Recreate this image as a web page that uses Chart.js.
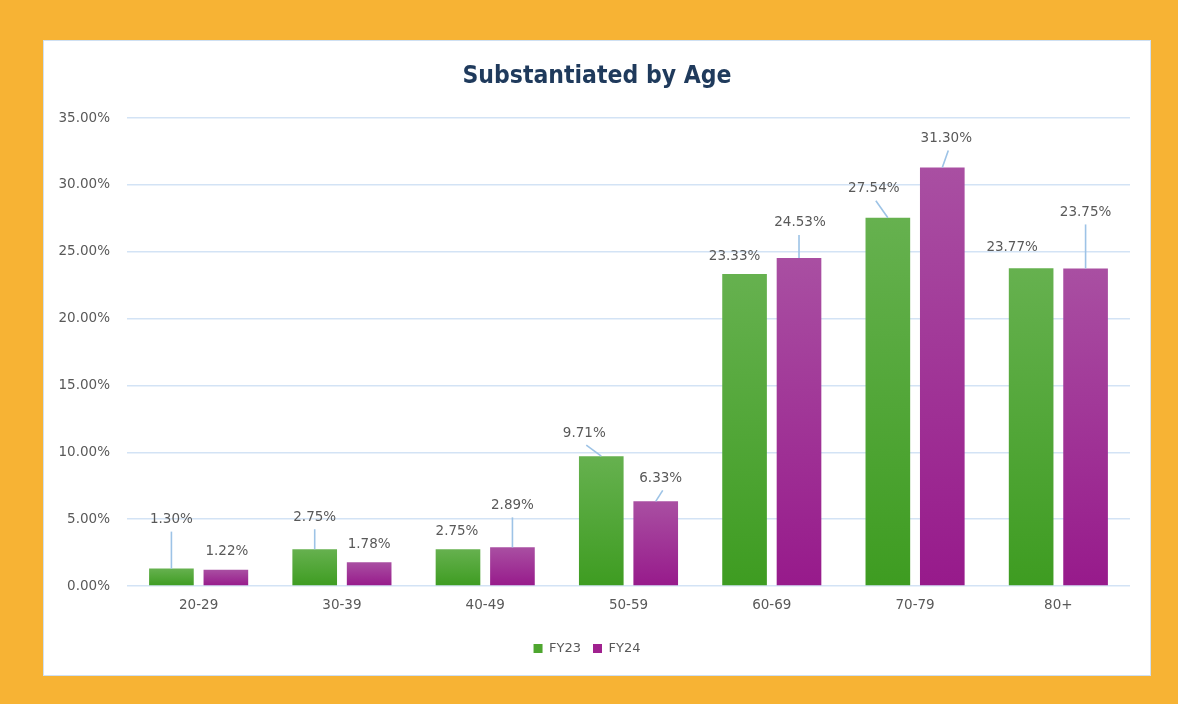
<!DOCTYPE html>
<html>
<head>
<meta charset="utf-8">
<script src="https://cdn.jsdelivr.net/npm/chart.js@4/dist/chart.umd.min.js"></script>
<style>
  html, body { margin: 0; padding: 0; }
  body { width: 1178px; height: 704px; background: #f7b334; position: relative; overflow: hidden; }
  #panel {
    position: absolute; left: 43px; top: 40px; width: 1108px; height: 636px;
    background: #fff; border: 1px solid #cfe0f2; box-sizing: border-box;
  }
  #wrap { position: absolute; left: 0; top: 0; width: 1106px; height: 634px; }
</style>
</head>
<body>
<div id="panel"><div id="wrap"><canvas id="chart"></canvas></div></div>
<script>
// values
const ageGroups = ['20-29', '30-39', '40-49', '50-59', '60-69', '70-79', '80+'];
const fy23 = [1.30, 2.75, 2.75, 9.71, 23.33, 27.54, 23.77];
const fy24 = [1.22, 1.78, 2.89, 6.33, 24.53, 31.30, 23.75];
const yTicks = [0, 5, 10, 15, 20, 25, 30, 35];
const chartTitle = 'Substantiated by Age';

// where each data label sits relative to its bar top (px), like the excel layout
const labelShiftFY23 = [[0, -49], [0, -32], [-1, -18], [-17, -23], [-10, -18], [-14, -29], [-19, -21]];
const labelShiftFY24 = [[1, -18], [0, -18], [0, -42], [5, -23], [1, -35], [4, -29], [0, -56]];

const textGrey = '#595959';
const gridBlue = '#d3e3f5';
const leaderBlue = '#9dc3e6';
const labelFont = '"DejaVu Sans", Verdana, sans-serif';

const barGradient = (top, bottom) => (context) => {
  const { chart, parsed } = context;
  if (!parsed || !chart.chartArea) return bottom;
  const y = chart.scales.y;
  const g = chart.ctx.createLinearGradient(0, y.getPixelForValue(parsed.y), 0, y.getPixelForValue(0));
  g.addColorStop(0, top);
  g.addColorStop(1, bottom);
  return g;
};

// title centred on the whole panel, not on the padded layout box
const panelTitle = {
  id: 'panelTitle',
  afterDraw(chart) {
    const { ctx } = chart;
    ctx.save();
    ctx.font = 'bold 24.5px "Liberation Sans Narrow", "DejaVu Sans Condensed", sans-serif';
    ctx.fillStyle = '#1f3a5c';
    ctx.textAlign = 'center';
    ctx.textBaseline = 'middle';
    ctx.fillText(chartTitle, chart.width / 2, 36);
    ctx.restore();
  },
};

const dataLabels = {
  id: 'dataLabels',
  afterDatasetsDraw(chart) {
    const { ctx } = chart;
    const shifts = [labelShiftFY23, labelShiftFY24];
    ctx.save();
    ctx.font = '13.5px ' + labelFont;
    ctx.fillStyle = textGrey;
    ctx.textAlign = 'center';
    ctx.textBaseline = 'middle';
    chart.data.datasets.forEach((ds, di) => {
      chart.getDatasetMeta(di).data.forEach((bar, i) => {
        const [dx, dy] = shifts[di][i];
        const lx = bar.x + dx;
        const ly = bar.y + dy;
        if (dy < -22) {
          ctx.strokeStyle = leaderBlue;
          ctx.lineWidth = 1.6;
          ctx.beginPath();
          ctx.moveTo(Math.abs(dx) < 3 ? bar.x : lx + 2, ly + 12);
          ctx.lineTo(bar.x, bar.y);
          ctx.stroke();
        }
        ctx.fillText(ds.data[i].toFixed(2) + '%', lx, ly);
      });
    });
    ctx.restore();
  },
};

new Chart(document.getElementById('chart'), {
  type: 'bar',
  plugins: [dataLabels, panelTitle],
  data: {
    labels: ageGroups,
    datasets: [
      {
        label: 'FY23',
        data: fy23,
        backgroundColor: barGradient('#66b14f', '#3e9c21'),
        categoryPercentage: 0.76,
        barPercentage: 0.82,
      },
      {
        label: 'FY24',
        data: fy24,
        backgroundColor: barGradient('#a94fa2', '#971a8b'),
        categoryPercentage: 0.76,
        barPercentage: 0.82,
      },
    ],
  },
  options: {
    responsive: true,
    maintainAspectRatio: false,
    animation: false,
    layout: { padding: { left: 0, right: 20, top: 77, bottom: 10 } },
    plugins: {
      title: { display: false },
      legend: {
        position: 'bottom',
        labels: {
          color: textGrey,
          boxWidth: 9,
          boxHeight: 9,
          padding: 12,
          font: { size: 13, family: labelFont },
          generateLabels(chart) {
            const solid = ['#4ea62f', '#a0218f'];
            return chart.data.datasets.map((ds, i) => ({
              text: ds.label,
              fillStyle: solid[i],
              strokeStyle: solid[i],
              lineWidth: 0,
              fontColor: textGrey,
              datasetIndex: i,
            }));
          },
        },
      },
      tooltip: { enabled: false },
    },
    scales: {
      x: {
        grid: { display: false, drawTicks: false },
        border: { display: false },
        ticks: {
          color: textGrey,
          padding: 11,
          font: { size: 13.5, family: labelFont },
        },
        afterFit(scale) { scale.height = 44; },
      },
      y: {
        min: 0,
        max: 35,
        afterBuildTicks(scale) { scale.ticks = yTicks.map((v) => ({ value: v })); },
        grid: { color: gridBlue, lineWidth: 1.5, drawTicks: false },
        border: { display: false },
        ticks: {
          color: textGrey,
          padding: 17,
          font: { size: 13.5, family: labelFont },
          callback: (v) => v.toFixed(2) + '%',
        },
        afterFit(scale) { scale.width = 83; },
      },
    },
  },
});
</script>
</body>
</html>
